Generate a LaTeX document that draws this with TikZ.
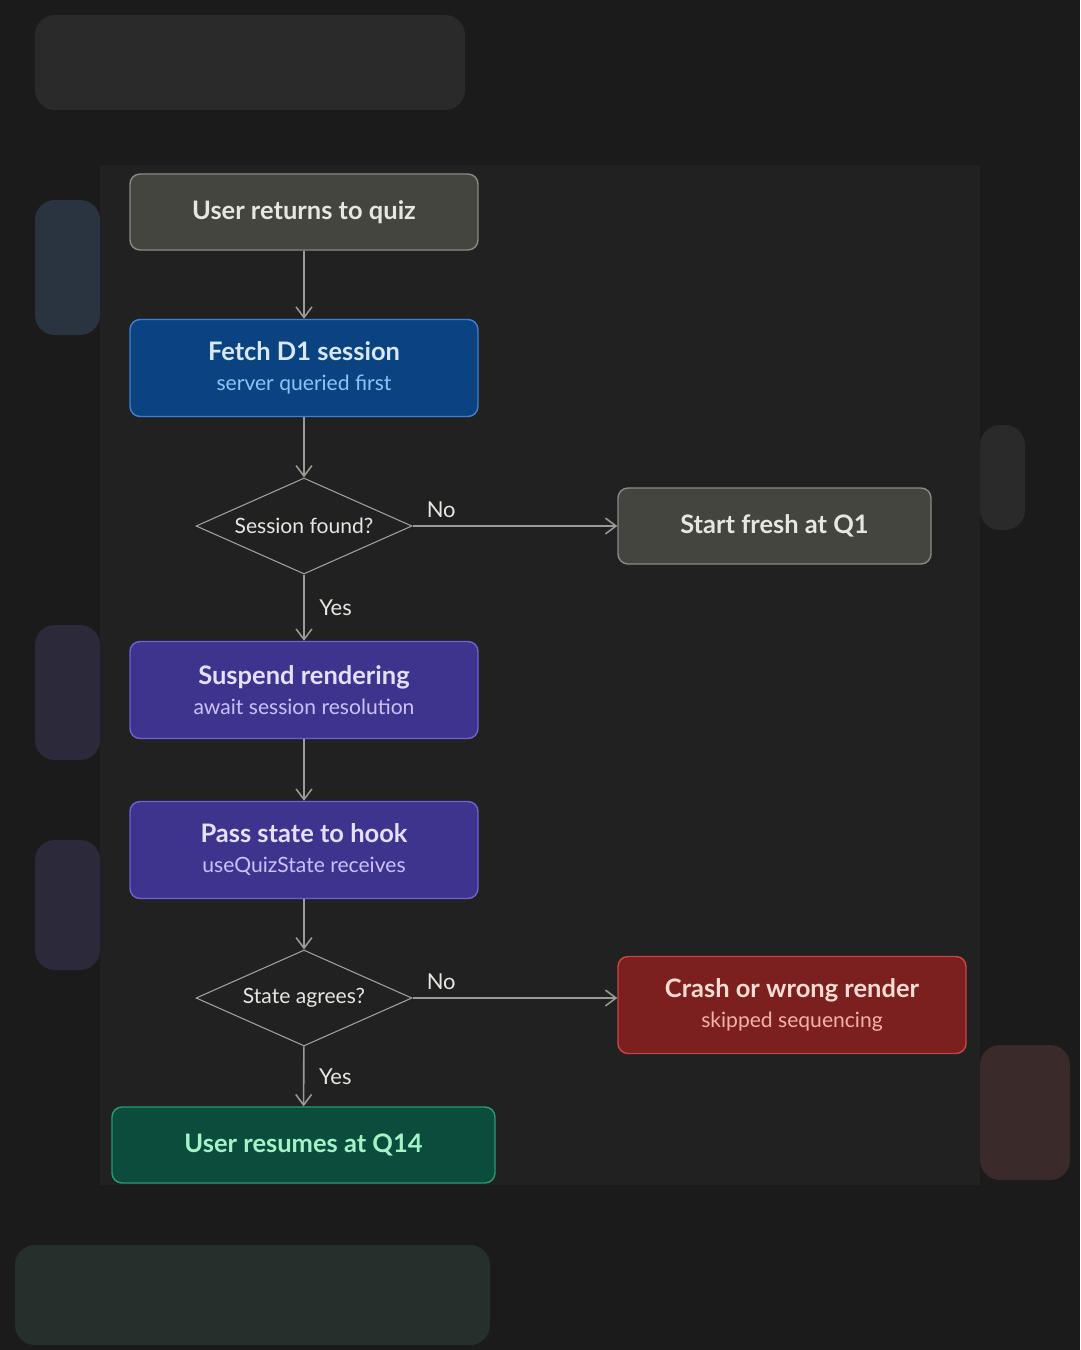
\documentclass[tikz,border=0pt]{standalone}
\usepackage{fontspec}
\setmainfont{Lato}
\usetikzlibrary{arrows.meta,shapes.geometric}
\definecolor{bgc}{HTML}{1B1B1B}
\definecolor{panel}{HTML}{212121}
\definecolor{grayf}{HTML}{45453F}
\definecolor{grayd}{HTML}{8A8A84}
\definecolor{bluef}{HTML}{0B4280}
\definecolor{blued}{HTML}{3F80D0}
\definecolor{bluet}{HTML}{D8E8FF}
\definecolor{blues}{HTML}{8EC2FF}
\definecolor{purf}{HTML}{3E348E}
\definecolor{purd}{HTML}{6C62D6}
\definecolor{purt}{HTML}{E4E0FF}
\definecolor{purs}{HTML}{C8C2FF}
\definecolor{redf}{HTML}{7C1F1F}
\definecolor{redd}{HTML}{C84646}
\definecolor{redt}{HTML}{FFDCD4}
\definecolor{reds}{HTML}{F2B2A8}
\definecolor{grnf}{HTML}{0B4D3C}
\definecolor{grnd}{HTML}{2A9A70}
\definecolor{grnt}{HTML}{A8F0CA}
\definecolor{linec}{HTML}{9A9A96}
\definecolor{txt}{HTML}{E6E6E2}
\definecolor{hblue}{HTML}{2A3440}
\definecolor{hpur}{HTML}{2C2A3A}
\definecolor{hred}{HTML}{3A2A2A}
\definecolor{hgrn}{HTML}{25302C}
\definecolor{hgray}{HTML}{2A2A2A}
\begin{document}
\begin{tikzpicture}[x=0.02cm,y=-0.02cm,
  box/.style={rounded corners=0.2cm,line width=0.8pt,align=center,inner sep=0pt},
  ttl/.style={font=\fontsize{14.5}{17}\selectfont\bfseries},
  dia/.style={diamond,draw=grayd!80,fill=panel,line width=0.6pt,minimum width=216*0.02cm,minimum height=96*0.02cm,inner sep=0pt,aspect=2.25,text=txt,font=\fontsize{12}{14}\selectfont},
  arr/.style={draw=linec,line width=0.9pt,-{Straight Barb[length=6pt,width=9pt]}},
  lbl/.style={text=txt,font=\fontsize{12.5}{14}\selectfont},
  hint/.style={rounded corners=0.4cm}]
\fill[bgc] (0,0) rectangle (1080,1350);
\useasboundingbox (0,0) rectangle (1080,1350);
% faint blurred background hints
\fill[hgray,hint] (35,15) rectangle (465,110);
\fill[hblue,hint] (35,200) rectangle (100,335);
\fill[hpur,hint] (35,625) rectangle (100,760);
\fill[hpur,hint] (35,840) rectangle (100,970);
\fill[hgray,hint] (980,425) rectangle (1025,530);
\fill[hred,hint] (980,1045) rectangle (1070,1180);
\fill[hgrn,hint] (15,1245) rectangle (490,1345);
\fill[panel] (100,165) rectangle (980,1185);
% nodes
\node[box,draw=grayd,fill=grayf,minimum width=348*0.02cm,minimum height=76*0.02cm,text=txt,ttl] (a) at (304,212) {User returns to quiz};
\node[box,draw=blued,fill=bluef,minimum width=348*0.02cm,minimum height=97*0.02cm] (b) at (304,368) {{\color{bluet}\fontsize{14.5}{17}\selectfont\bfseries Fetch D1 session}\\[5pt]{\color{blues}\fontsize{12}{14}\selectfont server queried first}};
\node[dia] (d1) at (304,526) {Session found?};
\node[box,draw=grayd,fill=grayf,minimum width=313*0.02cm,minimum height=76*0.02cm,text=txt,ttl] (c) at (774.5,526) {Start fresh at Q1};
\node[box,draw=purd,fill=purf,minimum width=348*0.02cm,minimum height=97*0.02cm] (e) at (304,690) {{\color{purt}\fontsize{14.5}{17}\selectfont\bfseries Suspend rendering}\\[5pt]{\color{purs}\fontsize{12}{14}\selectfont await session resolution}};
\node[box,draw=purd,fill=purf,minimum width=348*0.02cm,minimum height=97*0.02cm] (f) at (304,850) {{\color{purt}\fontsize{14.5}{17}\selectfont\bfseries Pass state to hook}\\[5pt]{\color{purs}\fontsize{12}{14}\selectfont useQuizState receives}};
\node[dia] (d2) at (304,998) {State agrees?};
\node[box,draw=redd,fill=redf,minimum width=348*0.02cm,minimum height=97*0.02cm] (g) at (792,1005) {{\color{redt}\fontsize{14.5}{17}\selectfont\bfseries Crash or wrong render}\\[5pt]{\color{reds}\fontsize{12}{14}\selectfont skipped sequencing}};
\node[box,draw=grnd,fill=grnf,minimum width=383*0.02cm,minimum height=76*0.02cm,text=grnt,ttl] (h) at (303.5,1145) {User resumes at Q14};
% connectors
\draw[arr] (a) -- (b);
\draw[arr] (b) -- (d1);
\draw[arr] (d1) -- node[lbl,pos=0.14,above=1pt]{No} (d1 -| c.west);
\draw[arr] (d1) -- node[lbl,right=5pt]{Yes} (e);
\draw[arr] (e) -- (f);
\draw[arr] (f) -- (d2);
\draw[arr] (d2) -- node[lbl,pos=0.14,above=1pt]{No} (d2 -| g.west);
\draw[arr] (d2) -- node[lbl,right=5pt]{Yes} (h);
\end{tikzpicture}
\end{document}
